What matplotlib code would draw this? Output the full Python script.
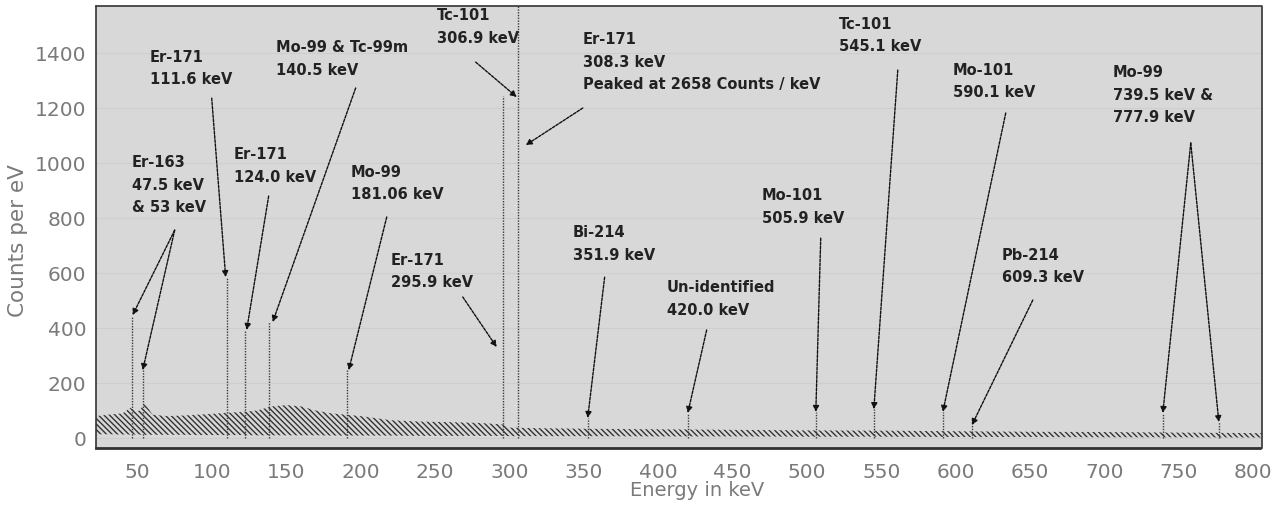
import matplotlib
matplotlib.use("Agg")
import matplotlib.pyplot as plt

# ---- data ----
# noisy continuum band (upper / lower envelope, counts per eV)
band_energy = [22, 30, 40, 45, 50, 55, 60, 70, 80, 90, 100, 110, 120, 130, 140, 150,
               160, 170, 180, 190, 200, 220, 240, 260, 280, 295, 300, 320, 350, 400,
               450, 500, 550, 600, 650, 700, 750, 806]
band_upper = [80, 85, 90, 110, 95, 125, 85, 80, 82, 85, 88, 92, 95, 100, 115, 120,
              115, 100, 90, 85, 80, 65, 60, 58, 55, 50, 38, 36, 34, 32,
              30, 28, 27, 25, 23, 22, 20, 18]
band_lower = [14, 14, 13, 13, 13, 12, 12, 12, 12, 11, 11, 11, 11, 10, 10, 10,
              10, 10, 9, 9, 9, 9, 8, 8, 8, 8, 7, 7, 7, 6,
              6, 5, 5, 4, 4, 3, 3, 2]

# peaks (energy position on the plot, height in counts per eV)
peak_energy = [46.5, 53.4, 109.8, 122.0, 138.0, 190.5, 295.5, 306.0, 352.6, 420.0,
               506.0, 545.0, 591.4, 610.9, 739.3, 777.0]
peak_height = [445, 247, 585, 393, 422, 247, 1245, 2658, 73, 91,
               95, 105, 95, 47, 91, 58]

# annotation labels
labels = ["Er-163\n47.5 keV\n& 53 keV",
          "Er-171\n111.6 keV",
          "Mo-99 & Tc-99m\n140.5 keV",
          "Er-171\n124.0 keV",
          "Mo-99\n181.06 keV",
          "Er-171\n295.9 keV",
          "Tc-101\n306.9 keV",
          "Er-171\n308.3 keV\nPeaked at 2658 Counts / keV",
          "Bi-214\n351.9 keV",
          "Un-identified\n420.0 keV",
          "Mo-101\n505.9 keV",
          "Tc-101\n545.1 keV",
          "Mo-101\n590.1 keV",
          "Pb-214\n609.3 keV",
          "Mo-99\n739.5 keV &\n777.9 keV"]
label_x = [46.0, 58.1, 142.8, 114.6, 193.2, 220.1, 251.1, 349.3, 342.5, 405.7,
           469.6, 521.4, 598.1, 631.0, 705.7]
label_y = [1029, 1411, 1447, 1058, 993, 673, 1563, 1476, 774, 574,
           909, 1531, 1364, 691, 1356]

# arrows: (start x, start y, end x, end y)
arrows = [(74.9, 756, 46.6, 447), (74.9, 756, 53.4, 247),
          (99.8, 1236, 109.2, 585),
          (196.6, 1273, 140.8, 422),
          (138.1, 880, 123.3, 393),
          (217.5, 804, 191.9, 247),
          (268.6, 513, 291.4, 331),
          (277.3, 1367, 304.9, 1240),
          (349.3, 1200, 310.9, 1065),
          (364.0, 585, 352.6, 73),
          (432.6, 393, 419.9, 91),
          (509.3, 727, 506.0, 95),
          (561.1, 1338, 545.0, 105),
          (633.7, 1182, 591.4, 95),
          (651.9, 502, 610.9, 47),
          (758.1, 1073, 739.3, 91), (758.1, 1073, 777.0, 58)]

x_ticks = list(range(50, 801, 50))
y_ticks = list(range(0, 1401, 200))

# ---- plot ----
plt.rcParams['font.family'] = ['DejaVu Sans']
plt.rcParams['hatch.linewidth'] = 1.0

fig = plt.figure(figsize=(12.87, 5.12), dpi=100)
ax = fig.add_axes([96/1287, 1 - 448/512, (1262-96)/1287, (448-6)/512])
ax.set_facecolor('#d8d8d8')

ax.set_xlim(22, 806)
ax.set_ylim(-36, 1571)

ax.set_yticks(y_ticks)
ax.set_xticks(x_ticks)
ax.yaxis.grid(True, color='#cecece', lw=0.8)
ax.set_axisbelow(True)

ax.fill_between(band_energy, band_lower, band_upper, facecolor='none',
                edgecolor='#333333', hatch='\\' * 6, linewidth=0)

ax.vlines(peak_energy, 0, peak_height, colors='#3a3a3a', lw=1.0,
          linestyles=(0, (1, 1)))

for (x0, y0, x1, y1) in arrows:
    ax.annotate('', xy=(x1, y1), xytext=(x0, y0),
                arrowprops=dict(arrowstyle='-|>', color='#111111', lw=1.0,
                                linestyle=(0, (2, 1)), mutation_scale=9,
                                shrinkA=0, shrinkB=0))

for t, x, y in zip(labels, label_x, label_y):
    ax.text(x, y, t, ha='left', va='top', fontsize=10.5, fontweight='bold',
            color='#222222', linespacing=1.62)

for s in ax.spines.values():
    s.set_linestyle((0, (1, 1)))
    s.set_color('#333333')
    s.set_linewidth(1.2)
ax.spines['bottom'].set_linewidth(2.0)

ax.tick_params(axis='both', length=0, labelsize=14.5, labelcolor='#7a7a7a')
ax.tick_params(axis='x', pad=11)
ax.tick_params(axis='y', pad=7)

ax.set_xlabel('Energy in keV', fontsize=14, color='#7a7a7a')
ax.set_ylabel('Counts per eV', fontsize=15.5, color='#7a7a7a')
ax.xaxis.set_label_coords((697-96)/1166, -0.075)
ax.yaxis.set_label_coords(-0.058, 0.47)

fig.savefig('out.png', dpi=100)
